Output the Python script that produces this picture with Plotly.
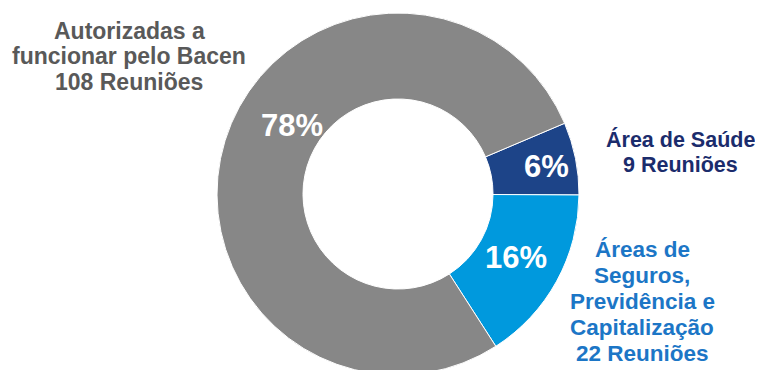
import plotly.graph_objects as go

# Reuniões por tipo de entidade
categorias = ["Área de Saúde", "Áreas de Seguros, Previdência e Capitalização",
              "Autorizadas a funcionar pelo Bacen"]
reunioes = [9, 22, 108]
cores = ["#1D4488", "#0099DD", "#878787"]

W, H = 763, 392
OFF = 8  # margem padrão do body da página


def px(x, y):
    return (x - OFF) / W, 1 - (y - OFF) / H


x0, y_top = px(217, 13)
x1, y_bot = px(579, 375)

fig = go.Figure(go.Pie(
    labels=categorias,
    values=reunioes,
    hole=0.525,
    sort=False,
    direction="clockwise",
    rotation=67,
    marker=dict(colors=cores, line=dict(color="white", width=1)),
    textinfo="none",
    hoverinfo="label+value+percent",
    domain=dict(x=[x0, x1], y=[y_bot, y_top]),
    showlegend=False,
))

total = sum(reunioes)
pct = [f"{round(v / total * 100)}%" for v in reunioes]

annotations = []
# percentuais dentro das fatias
for txt, (x, y) in zip(pct, [(546, 166), (516, 257), (292, 125)]):
    ax, ay = px(x, y)
    annotations.append(dict(x=ax, y=ay, text=f"<b>{txt}</b>", showarrow=False,
                            xref="paper", yref="paper", xanchor="center", yanchor="middle",
                            font=dict(size=31, color="white", family="Arial, Liberation Sans")))

# rótulos externos (uma anotação por linha)
rotulos = [
    (["Área de Saúde", f"{reunioes[0]} Reuniões"], 680, 139.5, 25, "#1B2C6C", 21.5),
    (["Áreas de", "Seguros,", "Previdência e", "Capitalização", f"{reunioes[1]} Reuniões"],
     642, 249.5, 26, "#1C76C6", 22.5),
    (["Autorizadas a", "funcionar pelo Bacen", f"{reunioes[2]} Reuniões"], 129, 30.5, 25.5, "#595959", 23),
]
for linhas, cx, y0, passo, cor, tam in rotulos:
    for i, linha in enumerate(linhas):
        ax, ay = px(cx, y0 + i * passo)
        annotations.append(dict(x=ax, y=ay, text=f"<b>{linha}</b>", showarrow=False,
                                xref="paper", yref="paper", xanchor="center", yanchor="middle",
                                font=dict(size=tam, color=cor, family="Arial, Liberation Sans")))

fig.update_layout(
    width=W, height=H,
    margin=dict(l=0, r=0, t=0, b=0),
    paper_bgcolor="white",
    plot_bgcolor="white",
    annotations=annotations,
)

fig.write_html("out.html")
